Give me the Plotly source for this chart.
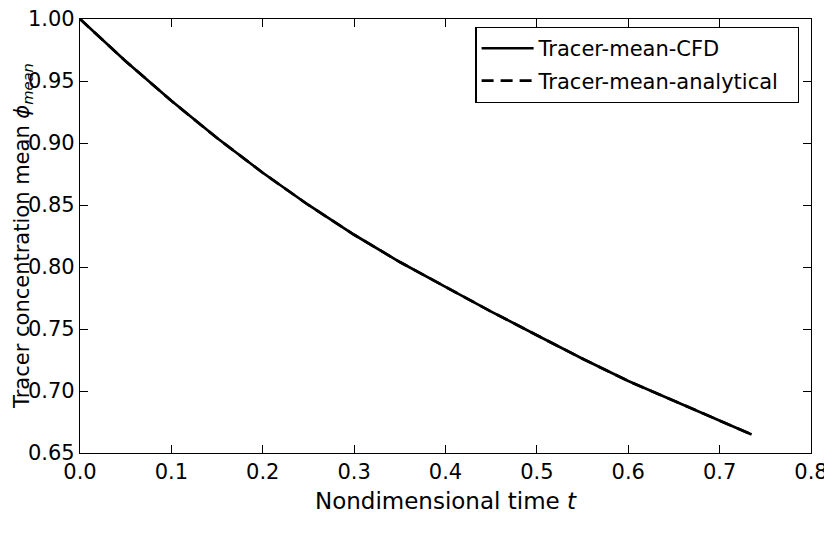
import plotly.graph_objects as go

# Data
t_cfd = [0.0, 0.05, 0.1, 0.15, 0.2, 0.25, 0.3, 0.35, 0.4, 0.45, 0.5, 0.55, 0.6, 0.65, 0.7, 0.735]
phi_cfd = [1.0, 0.966, 0.934, 0.904, 0.876, 0.850, 0.826, 0.804, 0.784, 0.764, 0.745, 0.726, 0.708, 0.692, 0.676, 0.665]
t_ana = [0.0, 0.05, 0.1, 0.15, 0.2, 0.25, 0.3, 0.35, 0.4, 0.45, 0.5, 0.55, 0.6, 0.65, 0.7, 0.735]
phi_ana = [1.0, 0.966, 0.934, 0.904, 0.876, 0.850, 0.826, 0.804, 0.784, 0.764, 0.745, 0.726, 0.708, 0.692, 0.676, 0.665]

x_ticks = [0.0, 0.1, 0.2, 0.3, 0.4, 0.5, 0.6, 0.7, 0.8]
y_ticks = [0.65, 0.70, 0.75, 0.80, 0.85, 0.90, 0.95, 1.00]

FONT = "DejaVu Sans"
PAD = "\u00a0\u00a0"
L_MARGIN = 72

fig = go.Figure()
fig.add_trace(go.Scatter(x=t_cfd, y=phi_cfd, mode="lines", name="Tracer-mean-CFD" + PAD,
                         legendgroup="a",
                         line=dict(color="black", width=2.7)))
fig.add_trace(go.Scatter(x=t_ana, y=phi_ana, mode="lines", name="Tracer-mean-analytical" + PAD,
                         legendgroup="b",
                         line=dict(color="black", width=2.7, dash="12px,7px")))

axis_common = dict(showline=True, linecolor="black", linewidth=1.3, mirror="allticks",
                   ticks="inside", ticklen=8, tickwidth=1, tickcolor="black",
                   showgrid=False, zeroline=False, ticklabeloverflow="allow",
                   automargin=False,
                   tickfont=dict(family=FONT, size=21, color="black"))

fig.update_xaxes(range=[0, 0.8], tickvals=x_ticks, ticktext=[f"{v:.1f}" for v in x_ticks],
                 title=dict(text="Nondimensional time <i>t</i>",
                            font=dict(family=FONT, size=23, color="black"), standoff=9),
                 **axis_common)
fig.update_yaxes(range=[0.65, 1.0], tickvals=y_ticks, ticktext=[f"{v:.2f}" for v in y_ticks],
                 **axis_common)

fig.add_annotation(text="Tracer concentration mean <i>ϕ</i><sub><i>mean</i></sub>",
                   xref="paper", yref="paper", x=0, y=0.5, xanchor="center", yanchor="middle",
                   xshift=-(L_MARGIN - 15), textangle=-90, showarrow=False,
                   font=dict(family=FONT, size=21, color="black"))

fig.update_layout(
    width=832, height=544,
    margin=dict(l=L_MARGIN, r=29, t=11, b=99),
    paper_bgcolor="white", plot_bgcolor="white",
    showlegend=True,
    legend=dict(x=0.984, y=0.982, xanchor="right", yanchor="top",
                bordercolor="black", borderwidth=1.3, bgcolor="white",
                font=dict(family=FONT, size=21, color="black"),
                tracegroupgap=2, itemwidth=52),
)

fig.write_html("out.html")
